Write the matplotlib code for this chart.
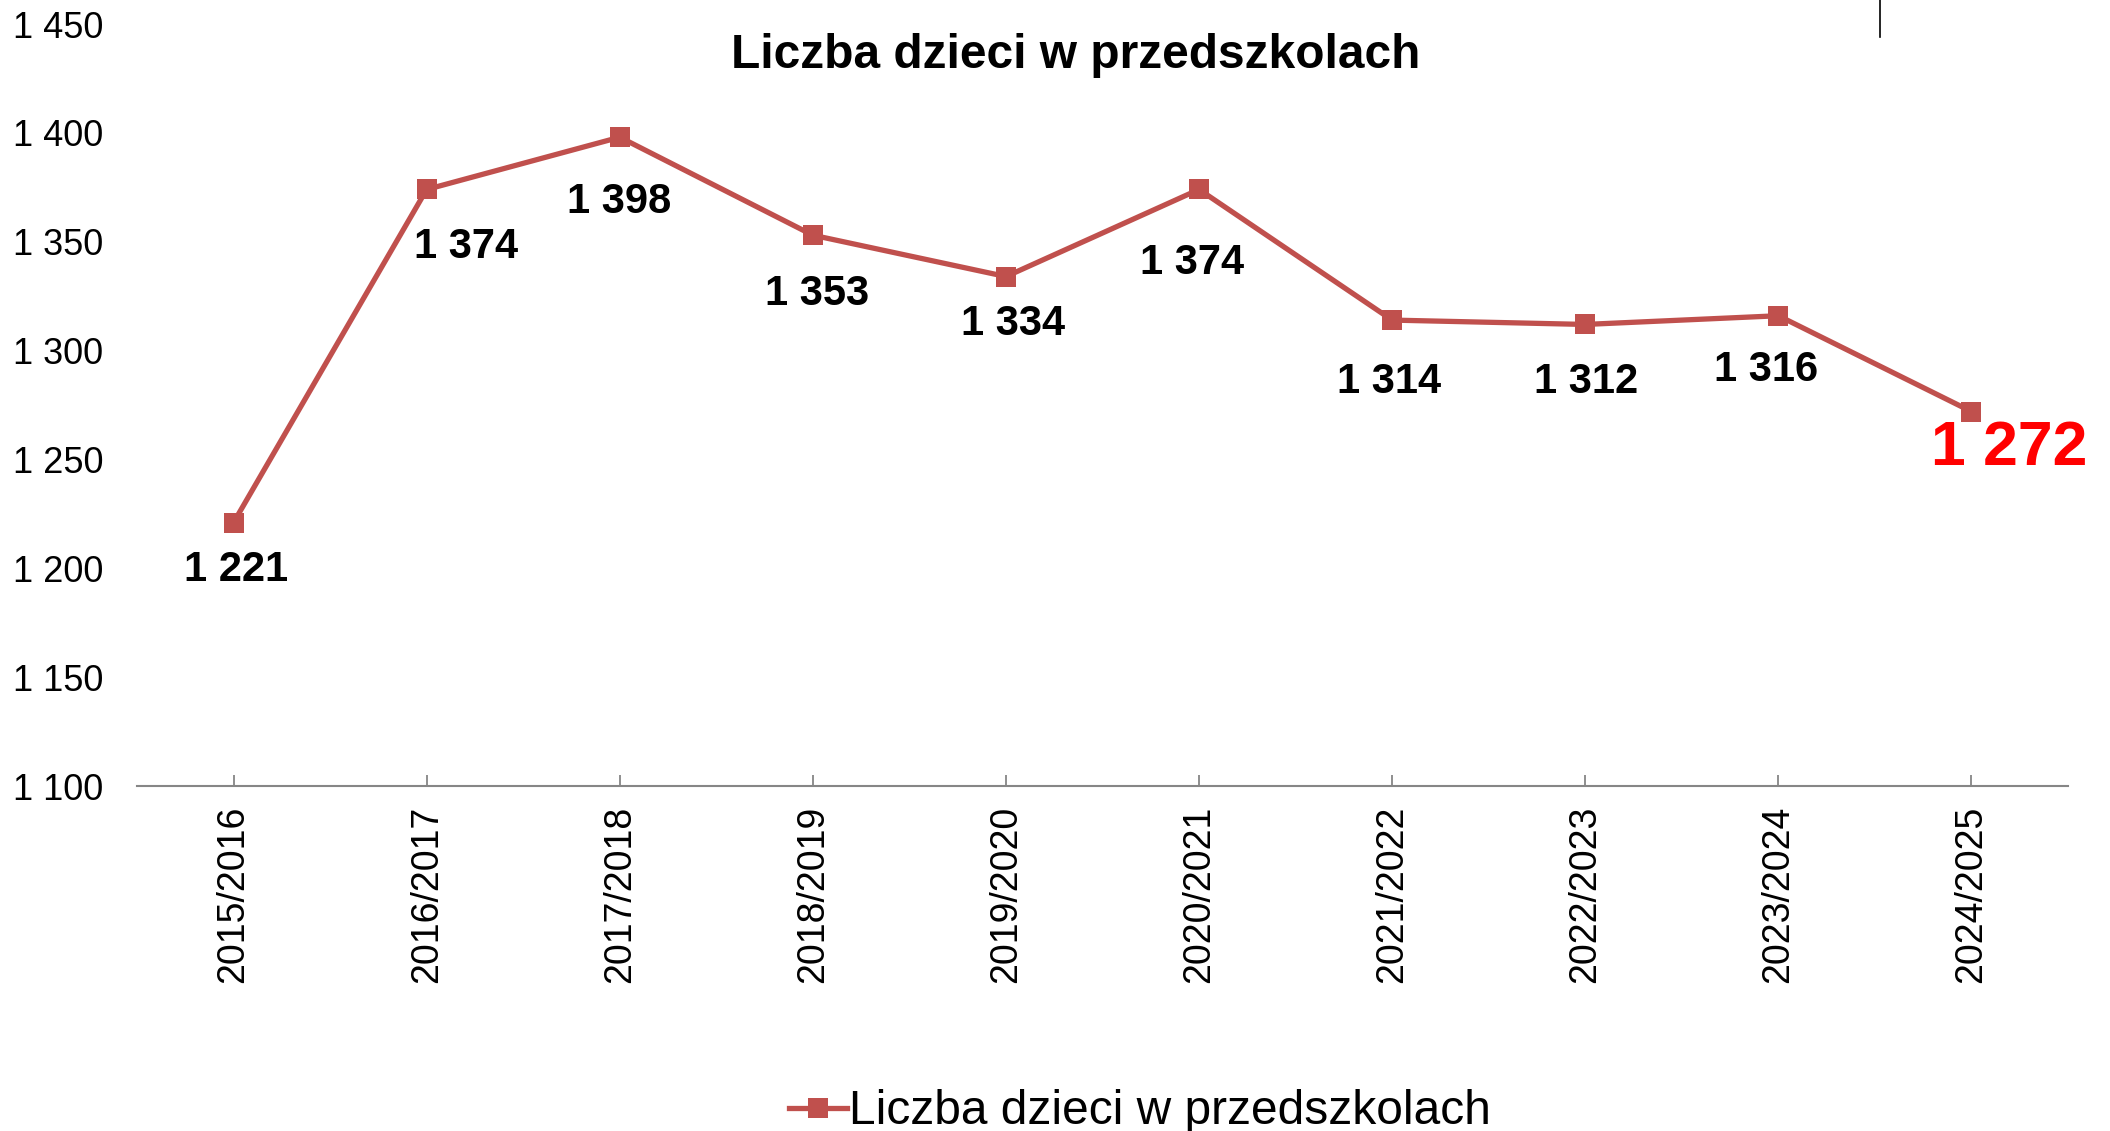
import matplotlib
matplotlib.use("Agg")
import matplotlib.pyplot as plt
from matplotlib.lines import Line2D

plt.rcParams['font.family'] = ['Liberation Sans', 'DejaVu Sans']

# === Data ===
years = ['2015/2016', '2016/2017', '2017/2018', '2018/2019', '2019/2020',
         '2020/2021', '2021/2022', '2022/2023', '2023/2024', '2024/2025']
children = [1221, 1374, 1398, 1353, 1334, 1374, 1314, 1312, 1316, 1272]
yticks = [1100, 1150, 1200, 1250, 1300, 1350, 1400, 1450]
title = 'Liczba dzieci w przedszkolach'

# label offsets (pixels) relative to each point
label_dx = [3, 39, -1, 4, 7, -7, -3, 1, -12, 38]
label_dy = [-47, -58, -65, -59, -47, -74, -62, -58, -54, -37]

line_color = '#C0504D'

def fmt(v):
    return f'{v:,}'.replace(',', ' ')

fig = plt.figure(figsize=(21.10, 11.31), dpi=100)
W, H = 2110, 1131
ax = fig.add_axes([137 / W, (H - 786) / H, (2068 - 137) / W, (786 - 24) / H])

x = list(range(len(years)))
ax.plot(x, children, color=line_color, linewidth=3.8, marker='s',
        markersize=14.5, markeredgewidth=0, label=title)

# data labels
for i, v in enumerate(children):
    last = i == len(children) - 1
    ax.annotate(fmt(v), (x[i], v), xytext=(label_dx[i], label_dy[i]),
                textcoords='offset pixels', ha='center', va='center',
                fontsize=45 if last else 30, fontweight='bold',
                color='#FF0000' if last else 'black')

ax.set_xlim(-0.5, len(years) - 0.5)
ax.set_ylim(1100, 1450)
ax.set_xticks(x)
ax.set_xticklabels(years, rotation=90, fontsize=27, va='top')
ax.set_yticks(yticks)
ax.set_yticklabels([fmt(t) for t in yticks], fontsize=26)
for lab in ax.get_yticklabels():
    lab.set_horizontalalignment('left')

ax.tick_params(axis='y', length=0, pad=89)
ax.tick_params(axis='x', direction='in', length=8, width=1.3,
               color='#868686', pad=14)

for s in ['top', 'right', 'left']:
    ax.spines[s].set_visible(False)
ax.spines['bottom'].set_color('#868686')
ax.spines['bottom'].set_linewidth(1.5)

# title
fig.text(1076 / W, 1 - 55 / H, title, ha='center', va='center',
         fontsize=34.5, fontweight='bold')

# stray vertical line at the top
fig.add_artist(Line2D([1880 / W, 1880 / W], [1, 1 - 37 / H],
                      color='black', linewidth=1.2))

# legend
fig.legend(loc='center', bbox_to_anchor=(1140 / W, 1 - 1112 / H),
           frameon=False, fontsize=34.5, handlelength=1.2,
           handletextpad=0.05, borderpad=0)

plt.savefig('out.png', dpi=100)
